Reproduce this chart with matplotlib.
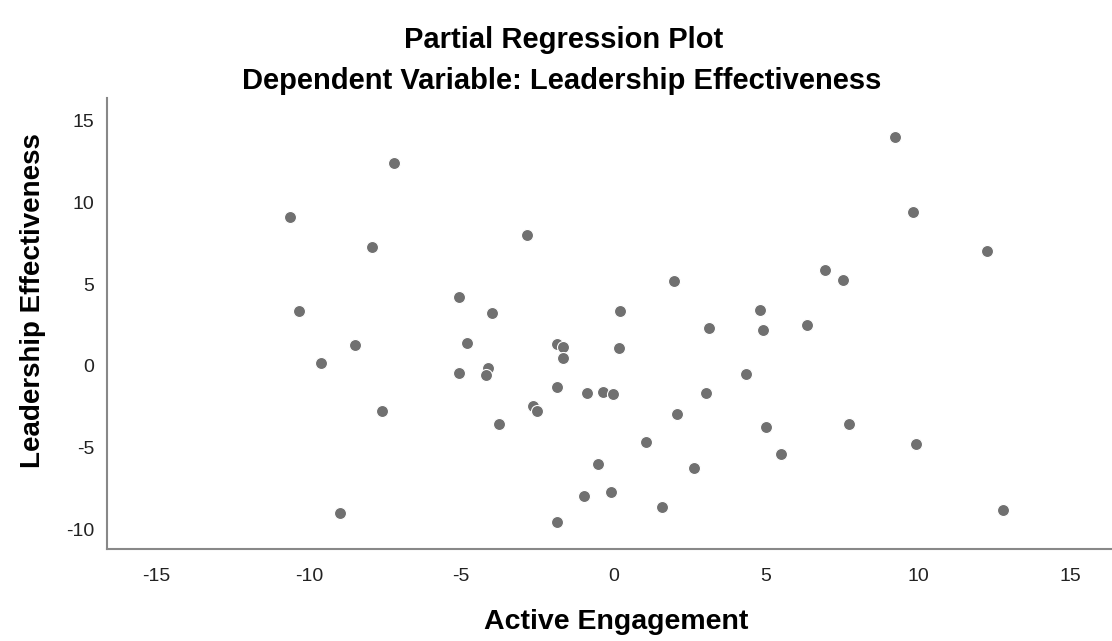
import matplotlib
matplotlib.use("Agg")
import matplotlib.pyplot as plt

plt.rcParams['font.family'] = ['Liberation Sans', 'DejaVu Sans']
plt.rcParams['axes.unicode_minus'] = False

# partial residuals
active_engagement = [
    -7.19, -10.62, -7.93, -5.08, -10.32, -4.00, -8.47, -4.80, -9.61, -5.06,
    -4.11, -4.19, -7.61, -3.76, -8.98, -2.83, 2.00, 0.21, 4.82, 3.14,
    4.92, -1.86, -1.65, 0.18, -1.65, 4.35, -1.84, -0.87, -0.33, -0.01,
    3.05, -2.63, -2.52, 2.09, 4.99, 1.07, 5.49, -0.50, 2.63, -0.98,
    -0.08, 1.60, -1.86, 9.25, 9.82, 12.25, 6.95, 7.53, 6.35, 7.74,
    9.93, 12.79,
]
leadership_eff = [
    12.39, 9.13, 7.27, 4.20, 3.36, 3.26, 1.28, 1.43, 0.20, -0.45,
    -0.10, -0.55, -2.77, -3.52, -8.97, 7.99, 5.22, 3.38, 3.44, 2.34,
    2.20, 1.34, 1.18, 1.08, 0.47, -0.51, -1.28, -1.63, -1.61, -1.71,
    -1.67, -2.44, -2.73, -2.95, -3.71, -4.65, -5.36, -6.01, -6.25, -7.95,
    -7.72, -8.60, -9.55, 14.00, 9.39, 7.05, 5.87, 5.26, 2.49, -3.55,
    -4.75, -8.80,
]
ticks = [-15, -10, -5, 0, 5, 10, 15]
yticks = [-10, -5, 0, 5, 10, 15]

fig = plt.figure(figsize=(11.12, 6.41), dpi=100)
ax = fig.add_axes([0.096, 0.1435, 0.904, 0.7035])

ax.scatter(active_engagement, leadership_eff, s=75, c='#707070',
           edgecolors='white', linewidths=0.8, zorder=3)

ax.set_xlim(-16.63, 16.36)
ax.set_ylim(-11.19, 16.38)
ax.set_xticks(ticks)
ax.set_yticks(yticks)
ax.tick_params(length=0, labelsize=14, colors='#222222')
ax.tick_params(axis='x', pad=14)
ax.tick_params(axis='y', pad=9)

for side in ['top', 'right']:
    ax.spines[side].set_visible(False)
for side in ['left', 'bottom']:
    ax.spines[side].set_color('#888888')
    ax.spines[side].set_linewidth(1.5)

ax.set_xlabel('Active Engagement', fontsize=20.5, fontweight='bold', va='center')
ax.set_ylabel('Leadership Effectiveness', fontsize=20, fontweight='bold', va='center')
ax.xaxis.set_label_coords(0.507, -0.162)
ax.yaxis.set_label_coords(-0.073, 0.55)

fig.text(0.507, 0.937, 'Partial Regression Plot', ha='center', va='center',
         fontsize=21, fontweight='bold')
fig.text(0.505, 0.874, 'Dependent Variable: Leadership Effectiveness',
         ha='center', va='center', fontsize=21, fontweight='bold')

plt.savefig('out.png', dpi=100)
